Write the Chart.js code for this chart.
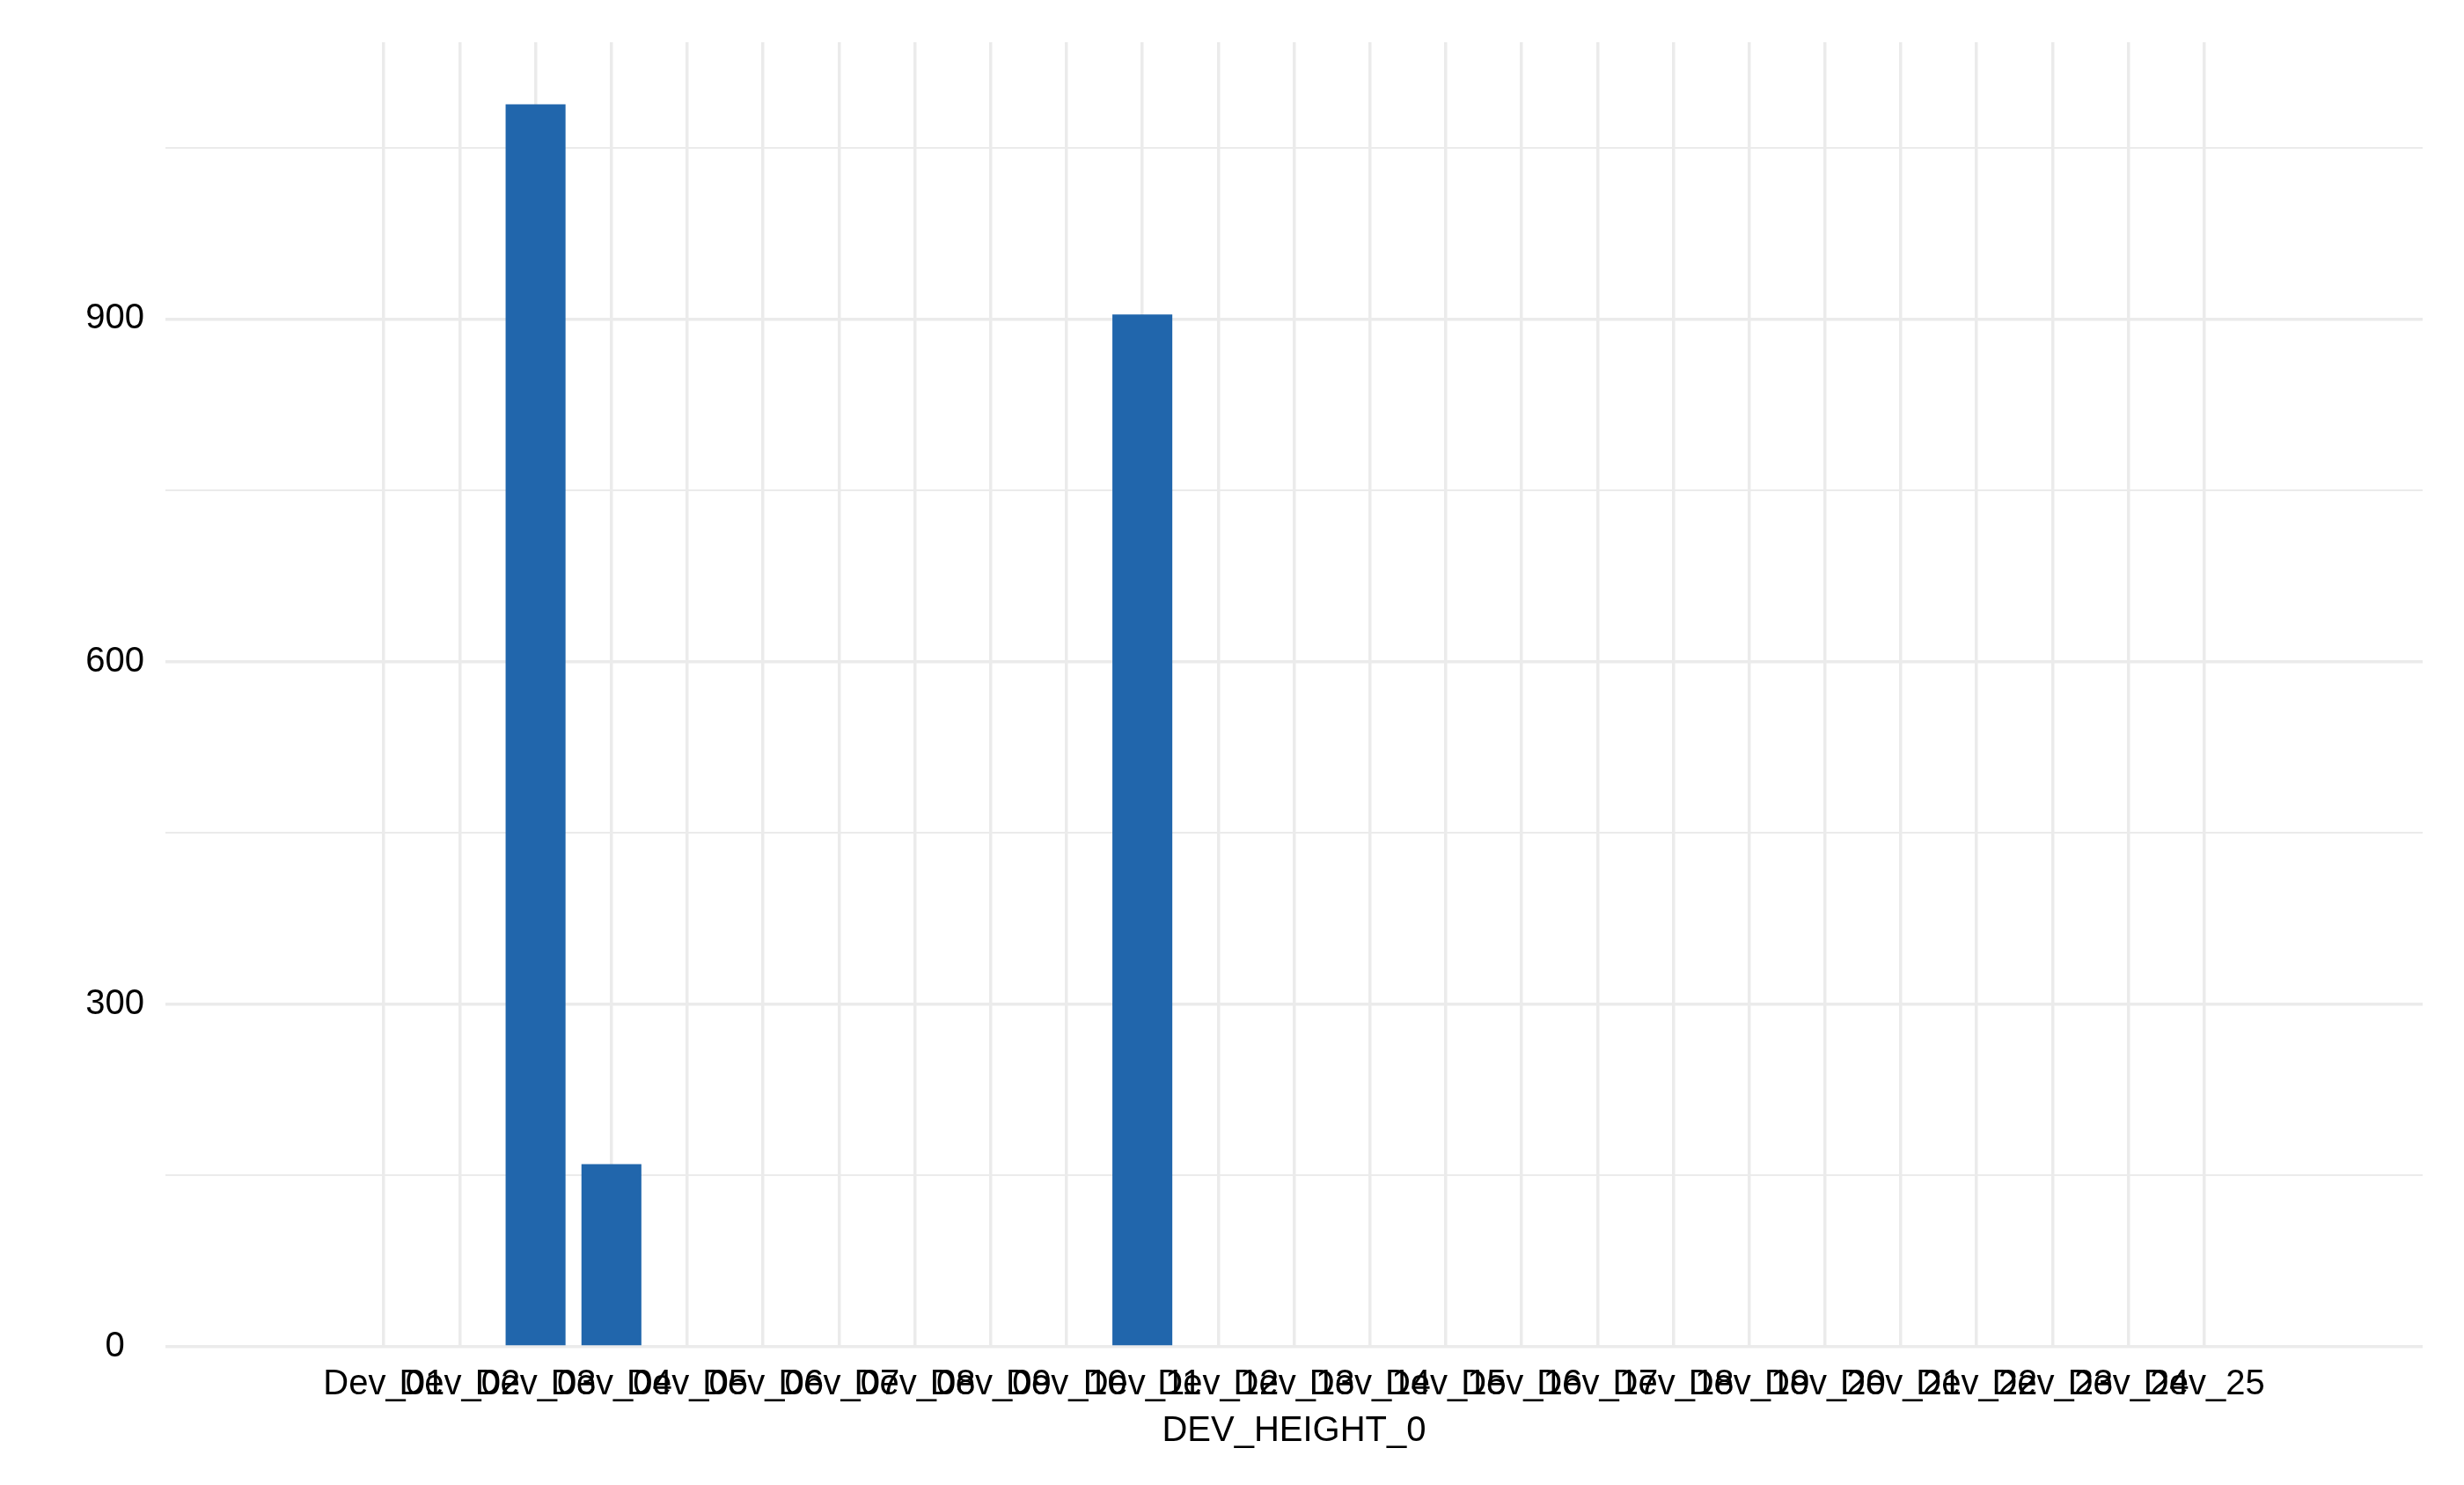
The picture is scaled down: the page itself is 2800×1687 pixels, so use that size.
<!DOCTYPE html>
<html>
<head>
<meta charset="utf-8">
<title>DEV_HEIGHT_0</title>
<script src="https://cdn.jsdelivr.net/npm/chart.js@4.4.1/dist/chart.umd.min.js"></script>
<style>
  html, body { margin: 0; padding: 0; background: #ffffff; }
  #wrap { width: 2800px; height: 1687px; }
</style>
</head>
<body>
<div id="wrap"><canvas id="chart" width="2800" height="1687"></canvas></div>
<script>
// ── Data ──────────────────────────────────────────────────────────────────────
const categories = [
  "Dev_01", "Dev_02", "Dev_03", "Dev_04", "Dev_05", "Dev_06", "Dev_07",
  "Dev_08", "Dev_09", "Dev_10", "Dev_11", "Dev_12", "Dev_13", "Dev_14",
  "Dev_15", "Dev_16", "Dev_17", "Dev_18", "Dev_19", "Dev_20", "Dev_21",
  "Dev_22", "Dev_23", "Dev_24", "Dev_25",
];
const counts = [
  0, 0, 1088, 160, 0, 0, 0,
  0, 0, 0, 904, 0, 0, 0,
  0, 0, 0, 0, 0, 0, 0,
  0, 0, 0, 0,
];
const yTickLabels = [0, 300, 600, 900];
const xTitle = "DEV_HEIGHT_0";

// ── Styling ───────────────────────────────────────────────────────────────────
const BAR_COLOR  = "#2166AC";
const GRID_COLOR = "#EBEBEB";
const FONT       = { family: "'Liberation Sans', Arial, sans-serif", size: 40 };

// bars sit on integer positions 1..25 of a linear axis, padded on both sides
const points = counts.map((v, i) => ({ x: i + 1, y: v }));
const yMax = Math.max(...counts) * 1.05;

const ctx = document.getElementById("chart").getContext("2d");
new Chart(ctx, {
  type: "bar",
  data: {
    datasets: [{
      data: points,
      backgroundColor: BAR_COLOR,
      borderWidth: 0,
      barPercentage: 0.79,
      categoryPercentage: 1,
    }],
  },
  options: {
    responsive: false,
    animation: false,
    devicePixelRatio: 1,
    layout: { padding: { top: 47, right: 47, bottom: 37, left: 0 } },
    plugins: {
      legend: { display: false },
      tooltip: { enabled: false },
    },
    scales: {
      x: {
        type: "linear",
        min: -1.88,
        max: 27.88,
        offset: false,
        afterBuildTicks: (scale) => {
          scale.ticks = categories.map((c, i) => ({ value: i + 1 }));
        },
        afterFit: (scale) => { scale.height = 120; },
        grid: { color: GRID_COLOR, lineWidth: 3.5, drawTicks: false, offset: false },
        border: { display: false },
        ticks: {
          autoSkip: false,
          maxRotation: 0,
          minRotation: 0,
          padding: 19,
          color: "#000000",
          font: FONT,
          callback: (value) => categories[value - 1] ?? "",
        },
        title: {
          display: true,
          text: xTitle,
          color: "#000000",
          font: { ...FONT, lineHeight: 1.2 },
          padding: { top: 0, bottom: 0 },
        },
      },
      y: {
        min: 0,
        max: yMax,
        afterFit: (scale) => { scale.width = 188; },
        grid: {
          color: GRID_COLOR,
          drawTicks: false,
          lineWidth: (c) => (yTickLabels.includes(c.tick.value) ? 3.5 : 2),
        },
        border: { display: false },
        ticks: {
          stepSize: 150,
          includeBounds: false,
          crossAlign: "center",
          padding: 24,
          color: "#000000",
          font: FONT,
          callback: (value) => (yTickLabels.includes(value) ? String(value) : ""),
        },
      },
    },
  },
});
</script>
</body>
</html>
